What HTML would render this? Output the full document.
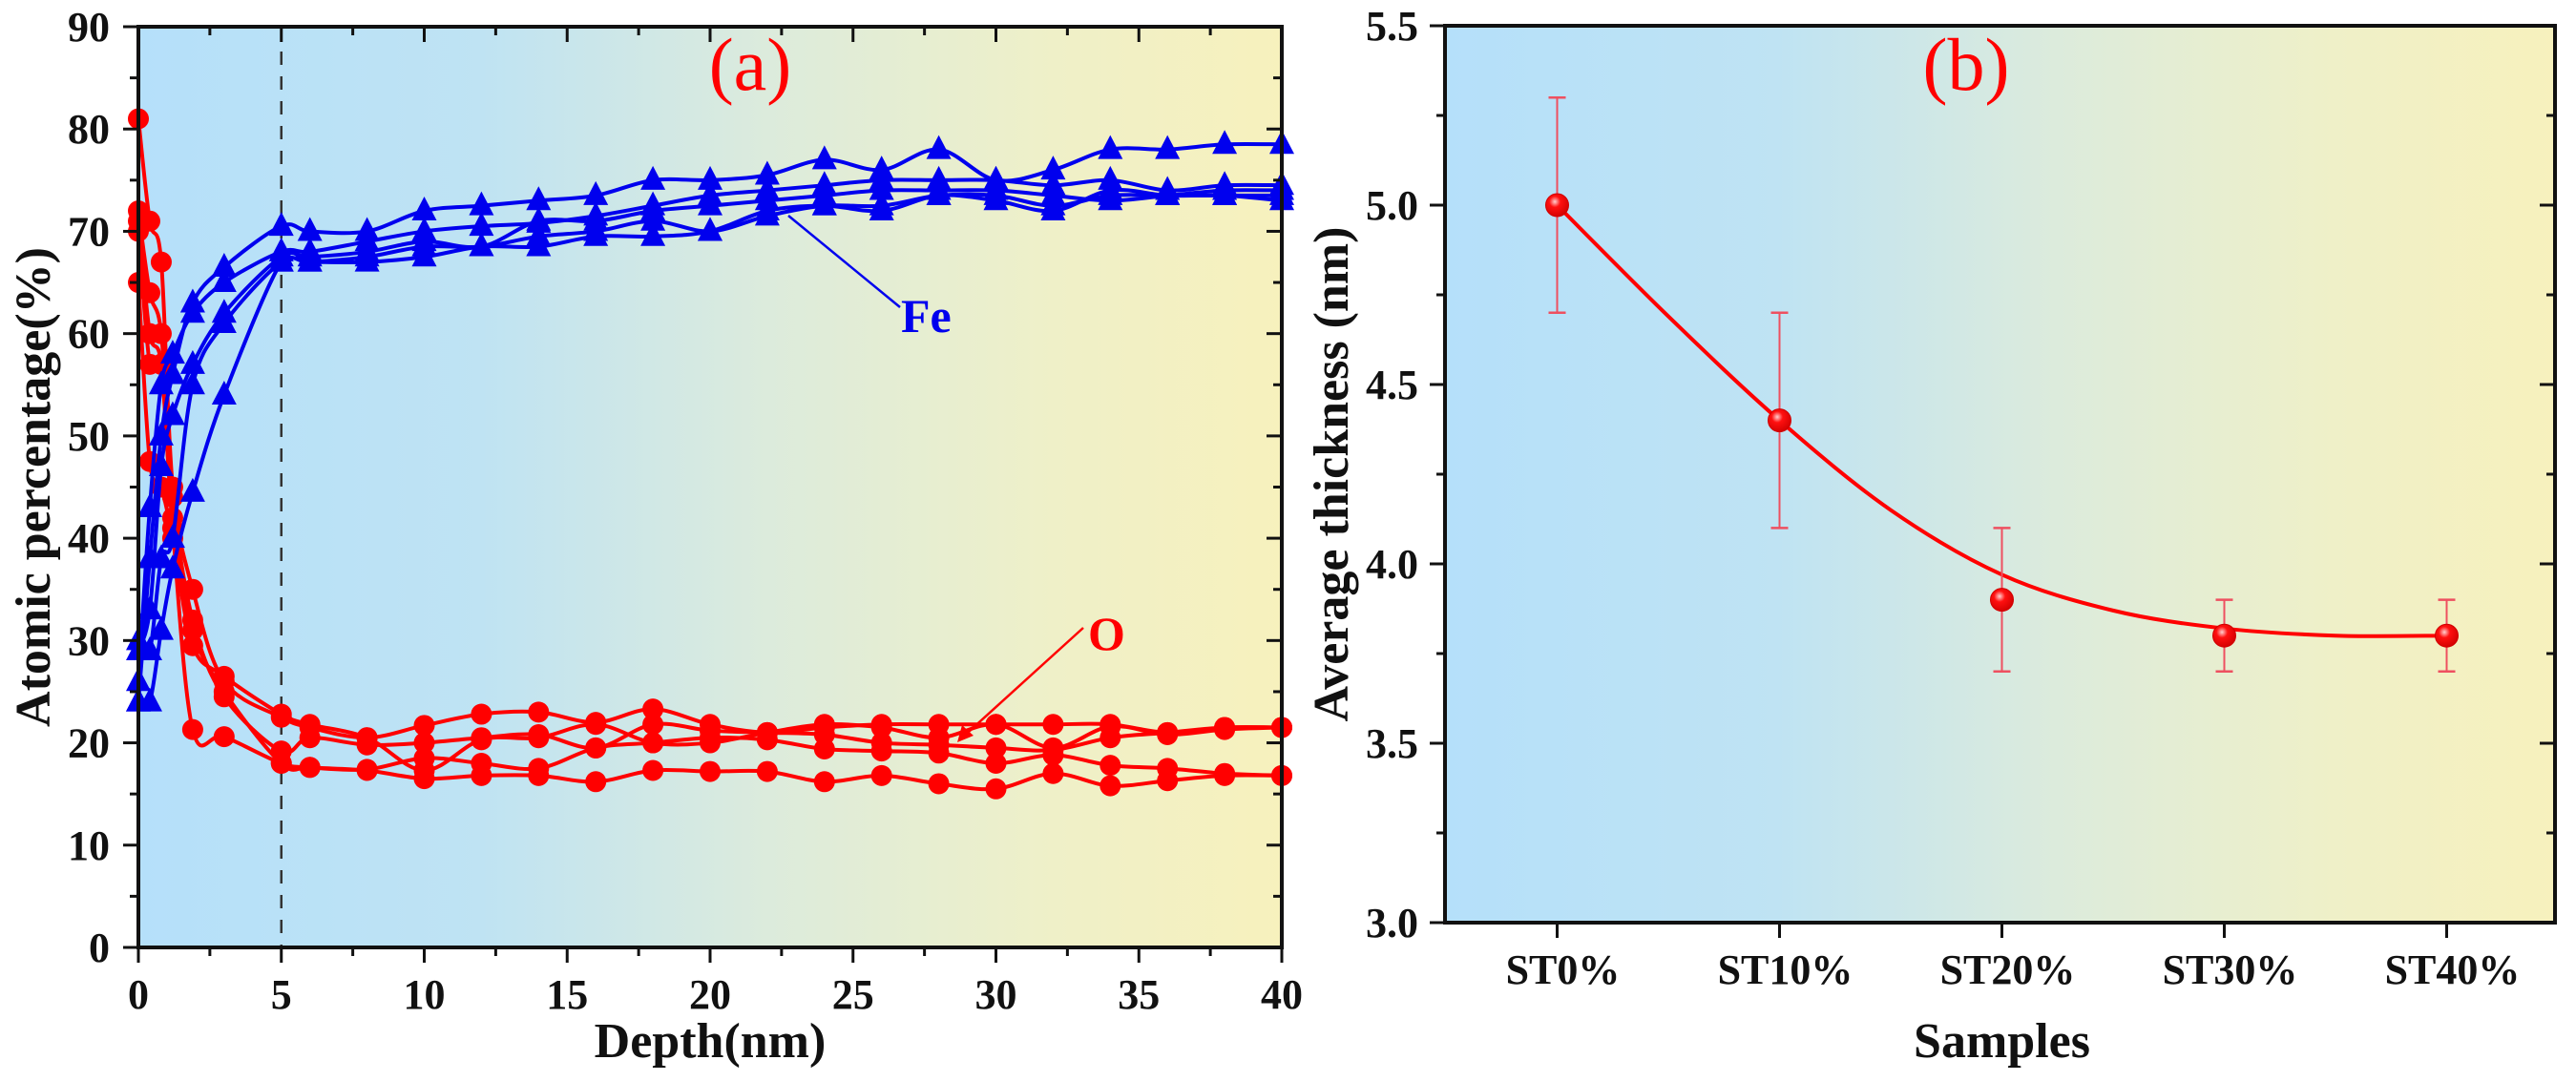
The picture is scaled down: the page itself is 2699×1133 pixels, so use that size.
<!DOCTYPE html>
<html><head><meta charset="utf-8">
<style>
html,body{margin:0;padding:0;background:#fff;}
svg{display:block;font-family:"Liberation Serif",serif;}
</style></head>
<body>
<svg id="fig" width="2699" height="1133" viewBox="0 0 2699 1133" xmlns="http://www.w3.org/2000/svg">
<defs>
<linearGradient id="bg" x1="0" y1="0" x2="1" y2="0">
<stop offset="0" stop-color="#b5e0fa"/>
<stop offset="0.3" stop-color="#bfe3f3"/>
<stop offset="0.55" stop-color="#dcebdc"/>
<stop offset="0.8" stop-color="#eff0c8"/>
<stop offset="1" stop-color="#f7f1bd"/>
</linearGradient>
<radialGradient id="ball" cx="0.4" cy="0.35" r="0.7">
<stop offset="0" stop-color="#ffd0d0"/>
<stop offset="0.35" stop-color="#ff1010"/>
<stop offset="1" stop-color="#d00000"/>
</radialGradient>
</defs>
<g id="chartA"></g>
<g id="chartB"></g>
</svg>
<script>
// ---------- Chart (a) data ----------
const depths = [0,0.4,0.8,1.2,1.9,3,5,6,8,10,12,14,16,18,20,22,24,26,28,30,32,34,36,38,40];
const fe1 = [24,38,50,56,63,66.5,70.5,70,70,72,72.5,73,73.5,75,75,75.5,77,76,78,75,76,78,78,78.5,78.5];
const fe2 = [26,43,55,58,62,65,68,68,69,70,70.5,70.8,71.5,72.5,73.5,74,74.5,75,75,75,74.5,75,74,74.5,74.5];
const fe3 = [29,33,47,52,57,62,67.5,67.5,68,69,68.5,71,71,72,72.5,73,73.5,74,74,74,73.5,73,73.5,74,74];
const fe4 = [30,29,38,40,55,61,67,67,67.5,68.5,68.5,69.5,70,71,70,71.5,72.5,72.5,73.5,73.5,72.5,73.5,73.5,73.5,73.5];
const fe5 = [24,24,31,37,44.5,54,67,67,67,67.5,68.5,68.5,69.5,69.5,70,72,72.5,72,73.5,73,72,74,73.5,73.5,73];
const o1 = [81,71,67,45,35,26,22.5,21.5,20.5,21.7,22.8,23,22,23.3,21.8,21,21.5,21.8,21.8,21.8,21.8,21.8,21,21.5,21.5];
const o2 = [72,64,60,44,32,24.5,19.2,20.5,19.8,20,20.5,20.8,19.5,21.8,21.2,21,20.8,20,19.8,19.5,19.3,20.5,21,21.5,21.5];
const o3 = [71,60,57,42,31,25,18,17.6,17.4,18.5,18,17.5,19.5,20,20.5,20.3,19.4,19.2,19,18,18.8,17.8,17.5,17,16.8];
const o4 = [70,57,57,41,21.3,20.6,18,17.6,17.3,16.5,16.8,16.8,16.2,17.3,17.2,17.2,16.2,16.8,16,15.5,17,15.8,16.3,16.8,16.8];
const o5 = [65,47.5,45,40,29.5,26.5,22.8,21.8,20.5,17.3,20.3,20.5,21.8,20,20,21,21.8,21.5,20.5,21.8,19.5,21.6,20.8,21.3,21.5];
const xTicksA = [0,5,10,15,20,25,30,35,40];
const yTicksA = [0,10,20,30,40,50,60,70,80,90];

// ---------- Chart (b) data ----------
const samples = ["ST0%","ST10%","ST20%","ST30%","ST40%"];
const thickness = [5.0,4.4,3.9,3.8,3.8];
const thickErr = [0.3,0.3,0.2,0.1,0.1];
const fitPos = [0,0.5,1,1.5,2,2.5,3,3.5,4];
const fitVal = [5.0,4.69,4.4,4.15,3.97,3.87,3.82,3.80,3.80];
const yTicksB = [3.0,3.5,4.0,4.5,5.0,5.5];

const NS = "http://www.w3.org/2000/svg";
function mk(parent, tag, attrs, text){
  const e = document.createElementNS(NS, tag);
  for (const k in attrs) e.setAttribute(k, attrs[k]);
  if (text !== undefined) e.textContent = text;
  parent.appendChild(e);
  return e;
}
function spline(pts){
  let d = "M" + pts[0][0] + "," + pts[0][1];
  for (let i = 0; i < pts.length - 1; i++){
    const p0 = pts[Math.max(0,i-1)], p1 = pts[i], p2 = pts[i+1], p3 = pts[Math.min(pts.length-1,i+2)];
    const c1x = p1[0] + (p2[0]-p0[0])/6, c1y = p1[1] + (p2[1]-p0[1])/6;
    const c2x = p2[0] - (p3[0]-p1[0])/6, c2y = p2[1] - (p3[1]-p1[1])/6;
    d += " C" + c1x + "," + c1y + " " + c2x + "," + c2y + " " + p2[0] + "," + p2[1];
  }
  return d;
}

// ---------- Chart (a) ----------
const A = document.getElementById("chartA");
const aL = 145, aR = 1343, aT = 28, aB = 993;
const ax = v => aL + (v - 0) / 40 * (aR - aL);
const ay = v => aB - v / 90 * (aB - aT);

const bgA = mk(A, "rect", {x:aL, y:aT, width:aR-aL, height:aB-aT, fill:"url(#bg)"});



const dash = mk(A, "line", {x1:ax(5), y1:aT, x2:ax(5), y2:aB, stroke:"#333", "stroke-width":2.5, "stroke-dasharray":"14,12"});



const oSeries = [o1,o2,o3,o4,o5];
const feSeries = [fe1,fe2,fe3,fe4,fe5];
oSeries.forEach((s, si) => {
  const g = mk(A, "g", {});
  
  
  const pts = s.map((v,i) => [ax(depths[i]), ay(v)]);
  mk(g, "path", {d:spline(pts), fill:"none", stroke:"#ff0000", "stroke-width":4});
  pts.forEach(p => {
    const c = mk(g, "circle", {cx:p[0], cy:p[1], r:11, fill:"#ff0000"});
    
    
  });
});
feSeries.forEach((s, si) => {
  const g = mk(A, "g", {});
  
  
  const pts = s.map((v,i) => [ax(depths[i]), ay(v)]);
  mk(g, "path", {d:spline(pts), fill:"none", stroke:"#0000ee", "stroke-width":4});
  pts.forEach(p => {
    const t = mk(g, "polygon", {points:(p[0])+","+(p[1]-15)+" "+(p[0]-13)+","+(p[1]+10)+" "+(p[0]+13)+","+(p[1]+10), fill:"#0000ee"});
    
    
  });
});

// frame + ticks A
const frA = mk(A, "rect", {x:aL, y:aT, width:aR-aL, height:aB-aT, fill:"none", stroke:"#111", "stroke-width":4});


for (let v = 0; v <= 40; v += 2.5){
  const major = v % 5 === 0;
  const len = major ? 16 : 9;
  mk(A, "line", {x1:ax(v), y1:aB, x2:ax(v), y2:aB+len, stroke:"#111", "stroke-width":3});
  mk(A, "line", {x1:ax(v), y1:aT, x2:ax(v), y2:aT+len, stroke:"#111", "stroke-width":3});
}
for (let v = 0; v <= 90; v += 5){
  const major = v % 10 === 0;
  const len = major ? 16 : 9;
  mk(A, "line", {x1:aL, y1:ay(v), x2:aL-len, y2:ay(v), stroke:"#111", "stroke-width":3});
  mk(A, "line", {x1:aR, y1:ay(v), x2:aR-len, y2:ay(v), stroke:"#111", "stroke-width":3});
}
xTicksA.forEach(v => {
  const t = mk(A, "text", {x:ax(v), y:aB+64, "text-anchor":"middle", "font-size":44, "font-weight":"bold", fill:"#111"}, String(v));
  
  
});
yTicksA.forEach(v => {
  const t = mk(A, "text", {x:aL-30, y:ay(v)+15, "text-anchor":"end", "font-size":44, "font-weight":"bold", fill:"#111"}, String(v));
  
  
});
const xtA = mk(A, "text", {x:744, y:1108, "text-anchor":"middle", "font-size":52, "font-weight":"bold", fill:"#111"}, "Depth(nm)");


const ytA = mk(A, "text", {x:0, y:0, transform:"translate(52,"+((aT+aB)/2)+") rotate(-90)", "text-anchor":"middle", "font-size":52, "font-weight":"bold", fill:"#111"}, "Atomic percentage(%)");


const pa = mk(A, "text", {x:786, y:94, "text-anchor":"middle", "font-size":78, fill:"#ff0000"}, "(a)");



// annotations
const feLead = mk(A, "line", {x1:826, y1:226, x2:943, y2:322, stroke:"#0000ee", "stroke-width":2.5});


const feLbl = mk(A, "text", {x:944, y:348, "font-size":50, "font-weight":"bold", fill:"#0000ee"}, "Fe");


const oLead = mk(A, "line", {x1:1135, y1:658, x2:1005, y2:776, stroke:"#ff0000", "stroke-width":2.5});


mk(A, "polygon", {points:"1003,778 1008,760 1020,771", fill:"#ff0000"});
const oLbl = mk(A, "text", {x:1140, y:681, "font-size":50, "font-weight":"bold", fill:"#ff0000"}, "O");



// ---------- Chart (b) ----------
const B = document.getElementById("chartB");
const bL = 1514, bR = 2677, bT = 27, bB = 967;
const bx = i => 1631.5 + i * 233;
const by = v => bB - (v - 3.0) / 2.5 * (bB - bT);

const bgB = mk(B, "rect", {x:bL, y:bT, width:bR-bL, height:bB-bT, fill:"url(#bg)"});



const fit = mk(B, "path", {d:spline(fitPos.map((p,i)=>[bx(p), by(fitVal[i])])), fill:"none", stroke:"#ff0000", "stroke-width":4});



thickness.forEach((v,i) => {
  const g = mk(B, "g", {});
  
  
  const x = bx(i), y1 = by(v + thickErr[i]), y2 = by(v - thickErr[i]);
  mk(g, "line", {x1:x, y1:y1, x2:x, y2:y2, stroke:"#ee5060", "stroke-width":2});
  mk(g, "line", {x1:x-9, y1:y1, x2:x+9, y2:y1, stroke:"#ee5060", "stroke-width":2.5});
  mk(g, "line", {x1:x-9, y1:y2, x2:x+9, y2:y2, stroke:"#ee5060", "stroke-width":2.5});
  mk(g, "circle", {cx:x, cy:by(v), r:12, fill:"url(#ball)", stroke:"#d00000", "stroke-width":1});
});

const frB = mk(B, "rect", {x:bL, y:bT, width:bR-bL, height:bB-bT, fill:"none", stroke:"#111", "stroke-width":4});


for (let v = 3.0; v <= 5.501; v += 0.25){
  const major = Math.abs(v*2 - Math.round(v*2)) < 1e-6;
  const len = major ? 16 : 9;
  mk(B, "line", {x1:bL, y1:by(v), x2:bL-len, y2:by(v), stroke:"#111", "stroke-width":3});
  mk(B, "line", {x1:bR, y1:by(v), x2:bR-len, y2:by(v), stroke:"#111", "stroke-width":3});
}
samples.forEach((s,i) => {
  mk(B, "line", {x1:bx(i), y1:bB, x2:bx(i), y2:bB+16, stroke:"#111", "stroke-width":3});
  const t = mk(B, "text", {x:bx(i)+6, y:bB+64, "text-anchor":"middle", "font-size":44, "font-weight":"bold", fill:"#111"}, s);
  
  
});
yTicksB.forEach(v => {
  const t = mk(B, "text", {x:bL-28, y:by(v)+15, "text-anchor":"end", "font-size":44, "font-weight":"bold", fill:"#111"}, v.toFixed(1));
  
  
});
const xtB = mk(B, "text", {x:bx(2), y:1108, "text-anchor":"middle", "font-size":52, "font-weight":"bold", fill:"#111"}, "Samples");


const ytB = mk(B, "text", {x:0, y:0, transform:"translate(1412,"+((bT+bB)/2)+") rotate(-90)", "text-anchor":"middle", "font-size":52, "font-weight":"bold", fill:"#111"}, "Average thickness (nm)");


const pb = mk(B, "text", {x:2060, y:94, "text-anchor":"middle", "font-size":78, fill:"#ff0000"}, "(b)");


</script>
</body></html>
